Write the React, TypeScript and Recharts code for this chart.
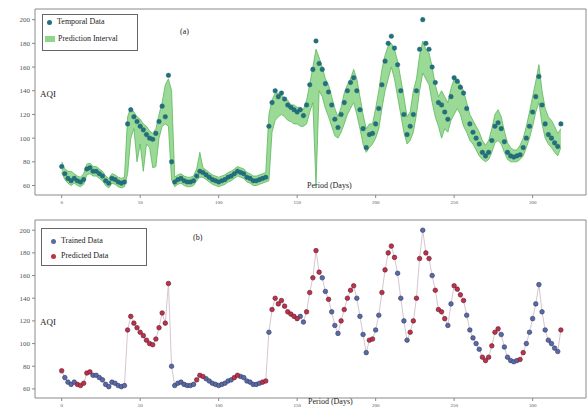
import { Area, ComposedChart, Line, ReferenceArea, XAxis, YAxis } from "recharts";

// daily AQI, sampled every DAY_STEP days
const DAY_STEP = 2;

const aqiValues = [
  76, 70, 66, 64, 66, 64, 63, 65, 74, 75,
  72, 72, 70, 68, 64, 62, 66, 65, 63, 62,
  63, 112, 124, 118, 114, 110, 107, 103, 100, 99,
  104, 114, 127, 118, 153, 80, 63, 65, 66, 64,
  63, 63, 64, 68, 72, 71, 69, 67, 65, 64,
  63, 64, 65, 67, 68, 70, 72, 71, 70, 67,
  66, 64, 64, 65, 66, 67, 110, 130, 140, 135,
  138, 133, 128, 126, 124, 122, 124, 119, 128, 145,
  158, 182, 163, 158, 146, 139, 128, 116, 109, 120,
  130, 140, 147, 151, 140, 124, 108, 92, 103, 104,
  112, 125, 145, 165, 180, 186, 176, 162, 140, 120,
  103, 110, 120, 140, 175, 200, 180, 175, 160, 147,
  130, 128, 122, 116, 135, 151, 148, 143, 138, 125,
  112, 105, 100, 95, 88, 85, 88, 98, 110, 113,
  108, 97, 88, 85, 84, 85, 86, 92, 100, 110,
  122, 135, 152, 128, 112, 103, 100, 96, 93, 112,
];

const intervalLow = [
  71, 65, 62, 60, 62, 60, 59, 61, 69, 70,
  68, 68, 66, 64, 60, 58, 62, 61, 59, 58,
  59, 70, 100, 108, 80, 95, 72, 95, 92, 75,
  76, 100, 110, 112, 110, 65, 59, 61, 62, 60,
  59, 59, 60, 64, 67, 67, 65, 63, 61, 60,
  59, 60, 61, 63, 64, 66, 68, 67, 66, 63,
  62, 60, 60, 61, 62, 63, 64, 105, 115, 118,
  120, 118, 115, 114, 112, 112, 110, 110, 112, 122,
  130, 60, 140, 135, 125, 118, 110, 102, 100, 105,
  112, 120, 125, 130, 120, 108, 95, 88, 92, 95,
  100, 108, 125, 140, 150, 160, 150, 135, 120, 105,
  95, 98, 105, 120, 140, 155, 150, 145, 130, 118,
  110, 100, 108, 105, 115, 120, 125, 120, 110, 105,
  98, 95, 90, 85, 82, 80, 82, 88, 96, 98,
  95, 88, 82, 80, 80, 80, 82, 85, 92, 100,
  110, 122, 130, 112, 100, 95, 92, 88, 85, 92,
];

const intervalHigh = [
  80, 74, 72, 72, 70, 68, 67, 70, 78, 79,
  76, 76, 74, 72, 68, 66, 70, 69, 67, 66,
  67, 118, 126, 122, 118, 116, 112, 110, 106, 104,
  108, 120, 130, 145, 150, 140, 67, 69, 70, 68,
  67, 67, 68, 74, 88, 75, 73, 71, 69, 68,
  67, 68, 69, 71, 72, 74, 76, 75, 74, 71,
  70, 68, 68, 69, 70, 71, 120, 132, 138, 138,
  136, 134, 132, 128, 128, 126, 126, 124, 132, 145,
  160, 175, 168, 160, 150, 145, 135, 125, 118, 126,
  138, 145, 150, 158, 150, 135, 120, 108, 112, 112,
  125, 140, 158, 170, 178, 180, 175, 165, 150, 135,
  118, 122, 140, 150, 170, 182, 175, 172, 160, 145,
  135, 140, 135, 130, 142, 150, 150, 145, 140, 130,
  120, 115, 110, 105, 98, 94, 98, 108, 120, 124,
  118, 106, 96, 92, 90, 90, 94, 100, 110, 122,
  135, 148, 162, 140, 125, 118, 115, 110, 104, 108,
];

// T = trained, P = predicted
const splitFlags = (
  "PTTTTPPPPP" + "TTTTTTTTTT" + "TPPPPPPPPP" + "PPPPPTTTTT" +
  "TTTPPPTTTT" + "TTTTTPPTTT" + "TTTTPPTPPP" + "PPPPPPTTPP" +
  "PPPTTPTTTP" + "PPPPTTTTPP" + "TTPPPPPTTT" + "TPPPPTPPTP" +
  "PPPTTPPPPT" + "TTTTPPPPPP" + "TTTTTTPPTT" + "TTTTTTTTTP"
).split("");

const xTicks = [0, 50, 100, 150, 200, 250, 300];
const yTicks = [60, 80, 100, 120, 140, 160, 180, 200];

const rows = aqiValues.map((v, i) => ({
  day: i * DAY_STEP,
  aqi: v,
  band: [intervalLow[i], intervalHigh[i]],
  trained: splitFlags[i] === "T" ? v : null,
  predicted: splitFlags[i] === "P" ? v : null,
}));

const X_DOMAIN: [number, number] = [-17, 334];
const Y_DOMAIN: [number, number] = [52, 209];
const SERIF = '"Liberation Serif", "Times New Roman", serif';
const tickStyle = { fontSize: 7, fill: "#555", fontFamily: SERIF };

function Axes() {
  return (
    <>
      <XAxis
        type="number"
        dataKey="day"
        domain={X_DOMAIN}
        ticks={xTicks}
        allowDataOverflow
        axisLine={false}
        tickLine={{ stroke: "#888" }}
        tickSize={3}
        tick={{ ...tickStyle, fontSize: 5 }}
        height={15}
      />
      <YAxis
        domain={Y_DOMAIN}
        ticks={yTicks}
        allowDataOverflow
        axisLine={false}
        tickLine={{ stroke: "#888" }}
        tickSize={3}
        tick={tickStyle}
        width={35}
      />
      <ReferenceArea
        x1={X_DOMAIN[0]}
        x2={X_DOMAIN[1]}
        y1={Y_DOMAIN[0]}
        y2={Y_DOMAIN[1]}
        fill="none"
        stroke="#8a8a8a"
        strokeWidth={1}
        ifOverflow="visible"
      />
    </>
  );
}

const text = (left: number, top: number, size = 8): React.CSSProperties => ({
  position: "absolute",
  left,
  top,
  fontSize: size,
  fontFamily: SERIF,
  color: "#222",
  whiteSpace: "nowrap",
  lineHeight: 1,
});

const dot = (color: string): React.CSSProperties => ({
  display: "inline-block",
  width: 5,
  height: 5,
  borderRadius: "50%",
  background: color,
  marginRight: 5,
  verticalAlign: "middle",
});

export default function App() {
  return (
    <div style={{ position: "absolute", left: 0, top: 0, width: 588, height: 413, background: "#fff", overflow: "hidden" }}>
      <ComposedChart width={588} height={210} data={rows} margin={{ top: 9, right: 2, left: 0, bottom: 0 }}>
        <Axes />
        <Area
          type="linear"
          dataKey="band"
          stroke="#5cb85c"
          strokeWidth={0.8}
          fill="#8fd68b"
          fillOpacity={0.9}
          isAnimationActive={false}
          activeDot={false}
        />
        <Line
          dataKey="aqi"
          stroke="none"
          dot={{ r: 2.3, fill: "#22707f", stroke: "#1b5f6e", strokeWidth: 0.4 }}
          activeDot={false}
          isAnimationActive={false}
        />
      </ComposedChart>

      <div style={{ position: "absolute", left: 0, top: 210 }}>
        <ComposedChart width={588} height={203} data={rows} margin={{ top: 10, right: 2, left: 0, bottom: 0 }}>
          <Axes />
          <Line
            dataKey="aqi"
            stroke="#d6c6d0"
            strokeWidth={1}
            dot={false}
            activeDot={false}
            isAnimationActive={false}
          />
          <Line
            dataKey="trained"
            stroke="none"
            dot={{ r: 2.3, fill: "#5a6aa8", stroke: "#33395e", strokeWidth: 0.6 }}
            activeDot={false}
            isAnimationActive={false}
          />
          <Line
            dataKey="predicted"
            stroke="none"
            dot={{ r: 2.3, fill: "#c0304a", stroke: "#5a2030", strokeWidth: 0.6 }}
            activeDot={false}
            isAnimationActive={false}
          />
        </ComposedChart>
      </div>

      {/* panel (a) legend + labels */}
      <div style={{ position: "absolute", left: 42, top: 14, width: 94, height: 35, border: "1px solid #666", background: "#fff" }} />
      <div style={text(47, 18)}>
        <span style={dot("#22707f")} />Temporal Data
      </div>
      <div style={text(45, 35)}>
        <span style={{ display: "inline-block", width: 10, height: 6, background: "#8fd68b", marginRight: 3, verticalAlign: "middle" }} />
        Prediction Interval
      </div>
      <div style={text(180, 28, 8)}>(a)</div>
      <div style={text(40, 90, 9)}>AQI</div>
      <div style={text(307, 182, 8)}>Period (Days)</div>

      {/* panel (b) legend + labels */}
      <div style={{ position: "absolute", left: 41, top: 228, width: 104, height: 36, border: "1px solid #666", background: "#fff" }} />
      <div style={text(51, 237)}>
        <span style={dot("#5a6aa8")} />Trained Data
      </div>
      <div style={text(51, 252)}>
        <span style={dot("#c0304a")} />Predicted Data
      </div>
      <div style={text(193, 234, 8)}>(b)</div>
      <div style={text(40, 318, 9)}>AQI</div>
      <div style={text(308, 398, 8)}>Period (Days)</div>
    </div>
  );
}
